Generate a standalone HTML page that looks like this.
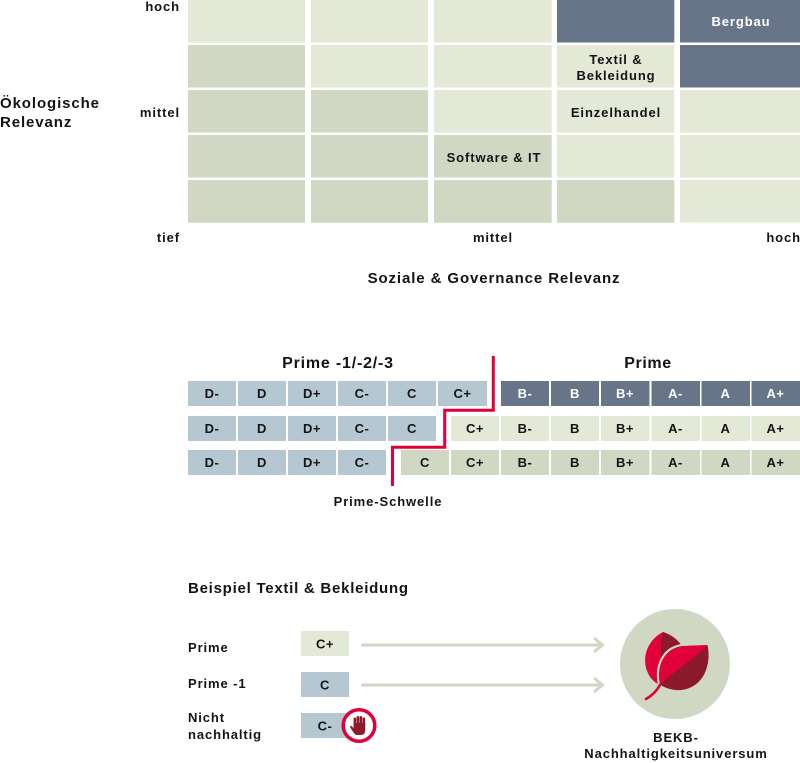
<!DOCTYPE html>
<html><head><meta charset="utf-8"><style>
html,body{margin:0;padding:0;background:#fff;}
svg{display:block;}
text{font-family:"Liberation Sans",Arial,sans-serif;font-weight:bold;fill:#141414;}
.s{font-size:13px;letter-spacing:0.9px;}
.t{font-size:15px;letter-spacing:0.9px;}
.b{font-size:13px;letter-spacing:0.5px;}
.w{fill:#fff;}
</style></head><body>
<svg width="800" height="763" viewBox="0 0 800 763" xmlns="http://www.w3.org/2000/svg">
<!-- Matrix -->
<g>
<rect x="188" y="0" width="117" height="42.5" fill="#e4e8d6"/>
<rect x="311" y="0" width="117" height="42.5" fill="#e4e8d6"/>
<rect x="434" y="0" width="117.7" height="42.5" fill="#e4e8d6"/>
<rect x="557" y="0" width="117.3" height="42.5" fill="#687588"/>
<rect x="680" y="0" width="120" height="42.5" fill="#687588"/>

<rect x="188" y="45" width="117" height="42.5" fill="#d0d7c3"/>
<rect x="311" y="45" width="117" height="42.5" fill="#e4e8d6"/>
<rect x="434" y="45" width="117.7" height="42.5" fill="#e4e8d6"/>
<rect x="557" y="45" width="117.3" height="42.5" fill="#e4e8d6"/>
<rect x="680" y="45" width="120" height="42.5" fill="#687588"/>

<rect x="188" y="90" width="117" height="42.5" fill="#d0d7c3"/>
<rect x="311" y="90" width="117" height="42.5" fill="#d0d7c3"/>
<rect x="434" y="90" width="117.7" height="42.5" fill="#e4e8d6"/>
<rect x="557" y="90" width="117.3" height="42.5" fill="#e4e8d6"/>
<rect x="680" y="90" width="120" height="42.5" fill="#e4e8d6"/>

<rect x="188" y="135" width="117" height="42.5" fill="#d0d7c3"/>
<rect x="311" y="135" width="117" height="42.5" fill="#d0d7c3"/>
<rect x="434" y="135" width="117.7" height="42.5" fill="#d0d7c3"/>
<rect x="557" y="135" width="117.3" height="42.5" fill="#e4e8d6"/>
<rect x="680" y="135" width="120" height="42.5" fill="#e4e8d6"/>

<rect x="188" y="180" width="117" height="42.7" fill="#d0d7c3"/>
<rect x="311" y="180" width="117" height="42.7" fill="#d0d7c3"/>
<rect x="434" y="180" width="117.7" height="42.7" fill="#d0d7c3"/>
<rect x="557" y="180" width="117.3" height="42.7" fill="#d0d7c3"/>
<rect x="680" y="180" width="120" height="42.7" fill="#e4e8d6"/>
</g>
<text class="s w" x="741" y="26" text-anchor="middle">Bergbau</text>
<text class="s" x="616" y="64" text-anchor="middle">Textil &amp;</text>
<text class="s" x="616" y="80" text-anchor="middle">Bekleidung</text>
<text class="s" x="616" y="117" text-anchor="middle">Einzelhandel</text>
<text class="s" x="494" y="162" text-anchor="middle">Software &amp; IT</text>

<text class="s" x="180" y="11" text-anchor="end">hoch</text>
<text class="s" x="180" y="117" text-anchor="end">mittel</text>
<text class="s" x="180" y="242" text-anchor="end">tief</text>
<text class="t" x="0" y="108">Ökologische</text>
<text class="t" x="0" y="127">Relevanz</text>
<text class="s" x="493" y="242" text-anchor="middle">mittel</text>
<text class="s" x="801" y="242" text-anchor="end">hoch</text>
<text class="t" x="494" y="283" text-anchor="middle">Soziale &amp; Governance Relevanz</text>

<!-- Ratings -->
<text x="338" y="368" text-anchor="middle" style="font-size:16px;letter-spacing:0.8px">Prime -1/-2/-3</text>
<text x="648" y="368" text-anchor="middle" style="font-size:16px;letter-spacing:0.6px">Prime</text>

<g>
<rect x="188" y="381" width="48" height="25" fill="#b5c8d2"/>
<rect x="238" y="381" width="48" height="25" fill="#b5c8d2"/>
<rect x="288" y="381" width="48" height="25" fill="#b5c8d2"/>
<rect x="338" y="381" width="48" height="25" fill="#b5c8d2"/>
<rect x="388" y="381" width="48" height="25" fill="#b5c8d2"/>
<rect x="438" y="381" width="49" height="25" fill="#b5c8d2"/>
<rect x="501" y="381" width="48" height="25" fill="#687588"/>
<rect x="551" y="381" width="48" height="25" fill="#687588"/>
<rect x="601" y="381" width="48.5" height="25" fill="#687588"/>
<rect x="651.5" y="381" width="48.5" height="25" fill="#687588"/>
<rect x="701.5" y="381" width="48.5" height="25" fill="#687588"/>
<rect x="751.5" y="381" width="48.5" height="25" fill="#687588"/>

<rect x="188" y="416" width="48" height="25" fill="#b5c8d2"/>
<rect x="238" y="416" width="48" height="25" fill="#b5c8d2"/>
<rect x="288" y="416" width="48" height="25" fill="#b5c8d2"/>
<rect x="338" y="416" width="48" height="25" fill="#b5c8d2"/>
<rect x="388" y="416" width="48" height="25" fill="#b5c8d2"/>
<rect x="451" y="416" width="48" height="25" fill="#e4e8d6"/>
<rect x="501" y="416" width="48" height="25" fill="#e4e8d6"/>
<rect x="551" y="416" width="48" height="25" fill="#e4e8d6"/>
<rect x="601" y="416" width="48.5" height="25" fill="#e4e8d6"/>
<rect x="651.5" y="416" width="48.5" height="25" fill="#e4e8d6"/>
<rect x="701.5" y="416" width="48.5" height="25" fill="#e4e8d6"/>
<rect x="751.5" y="416" width="48.5" height="25" fill="#e4e8d6"/>

<rect x="188" y="450" width="48" height="25" fill="#b5c8d2"/>
<rect x="238" y="450" width="48" height="25" fill="#b5c8d2"/>
<rect x="288" y="450" width="48" height="25" fill="#b5c8d2"/>
<rect x="338" y="450" width="48" height="25" fill="#b5c8d2"/>
<rect x="401" y="450" width="48" height="25" fill="#d0d7c3"/>
<rect x="451" y="450" width="48" height="25" fill="#d0d7c3"/>
<rect x="501" y="450" width="48" height="25" fill="#d0d7c3"/>
<rect x="551" y="450" width="48" height="25" fill="#d0d7c3"/>
<rect x="601" y="450" width="48.5" height="25" fill="#d0d7c3"/>
<rect x="651.5" y="450" width="48.5" height="25" fill="#d0d7c3"/>
<rect x="701.5" y="450" width="48.5" height="25" fill="#d0d7c3"/>
<rect x="751.5" y="450" width="48.5" height="25" fill="#d0d7c3"/>
</g>
<g>
<text class="b" x="212" y="398" text-anchor="middle">D-</text>
<text class="b" x="262" y="398" text-anchor="middle">D</text>
<text class="b" x="312" y="398" text-anchor="middle">D+</text>
<text class="b" x="362" y="398" text-anchor="middle">C-</text>
<text class="b" x="412" y="398" text-anchor="middle">C</text>
<text class="b" x="462.5" y="398" text-anchor="middle">C+</text>
<text class="b w" x="525" y="398" text-anchor="middle">B-</text>
<text class="b w" x="575" y="398" text-anchor="middle">B</text>
<text class="b w" x="625" y="398" text-anchor="middle">B+</text>
<text class="b w" x="675.5" y="398" text-anchor="middle">A-</text>
<text class="b w" x="725.5" y="398" text-anchor="middle">A</text>
<text class="b w" x="775.5" y="398" text-anchor="middle">A+</text>

<text class="b" x="212" y="433" text-anchor="middle">D-</text>
<text class="b" x="262" y="433" text-anchor="middle">D</text>
<text class="b" x="312" y="433" text-anchor="middle">D+</text>
<text class="b" x="362" y="433" text-anchor="middle">C-</text>
<text class="b" x="412" y="433" text-anchor="middle">C</text>
<text class="b" x="475" y="433" text-anchor="middle">C+</text>
<text class="b" x="525" y="433" text-anchor="middle">B-</text>
<text class="b" x="575" y="433" text-anchor="middle">B</text>
<text class="b" x="625" y="433" text-anchor="middle">B+</text>
<text class="b" x="675.5" y="433" text-anchor="middle">A-</text>
<text class="b" x="725.5" y="433" text-anchor="middle">A</text>
<text class="b" x="775.5" y="433" text-anchor="middle">A+</text>

<text class="b" x="212" y="467" text-anchor="middle">D-</text>
<text class="b" x="262" y="467" text-anchor="middle">D</text>
<text class="b" x="312" y="467" text-anchor="middle">D+</text>
<text class="b" x="362" y="467" text-anchor="middle">C-</text>
<text class="b" x="425" y="467" text-anchor="middle">C</text>
<text class="b" x="475" y="467" text-anchor="middle">C+</text>
<text class="b" x="525" y="467" text-anchor="middle">B-</text>
<text class="b" x="575" y="467" text-anchor="middle">B</text>
<text class="b" x="625" y="467" text-anchor="middle">B+</text>
<text class="b" x="675.5" y="467" text-anchor="middle">A-</text>
<text class="b" x="725.5" y="467" text-anchor="middle">A</text>
<text class="b" x="775.5" y="467" text-anchor="middle">A+</text>
</g>

<path d="M493.3,356 V410.3 H444.7 V447.3 H392.5 V486" fill="none" stroke="#e2003a" stroke-width="3"/>
<text class="s" x="388" y="506" text-anchor="middle">Prime-Schwelle</text>

<!-- Example -->
<text class="t" x="188" y="593" style="letter-spacing:0.75px">Beispiel Textil &amp; Bekleidung</text>
<text class="s" x="188" y="652">Prime</text>
<text class="s" x="188" y="688">Prime -1</text>
<text class="s" x="188" y="722">Nicht</text>
<text class="s" x="188" y="739">nachhaltig</text>

<rect x="301" y="631" width="48" height="25" fill="#e4e8d6"/>
<rect x="301" y="672" width="48" height="25" fill="#b5c8d2"/>
<rect x="301" y="713" width="48" height="25" fill="#b5c8d2"/>
<text class="b" x="325" y="648.5" text-anchor="middle">C+</text>
<text class="b" x="325" y="689.5" text-anchor="middle">C</text>
<text class="b" x="325" y="730.5" text-anchor="middle">C-</text>

<!-- stop icon -->
<circle cx="359" cy="725.5" r="15.8" fill="#fff" stroke="#e2003a" stroke-width="3.5"/>
<g fill="#8c1a2b">
<rect x="353.6" y="717.5" width="2.6" height="10" rx="1.3"/>
<rect x="356.6" y="716" width="2.6" height="11" rx="1.3"/>
<rect x="359.6" y="716" width="2.6" height="11" rx="1.3"/>
<rect x="362.6" y="717.5" width="2.6" height="10" rx="1.3"/>
<path d="M353.6,723 H365.2 V730.5 Q365.2,735 360.5,735 H357.5 Q354.8,735 353.5,732.5 L350.3,727.6 Q349.6,726 351.2,725.8 L353.6,728 Z"/>
</g>

<!-- arrows -->
<g stroke="#d0d7c3" stroke-width="3" fill="none">
<line x1="361" y1="645" x2="602" y2="645"/>
<polyline points="594,638 602.5,645 594,652"/>
<line x1="361" y1="685" x2="602" y2="685"/>
<polyline points="594,678 602.5,685 594,692"/>
</g>

<!-- BEKB circle -->
<circle cx="675" cy="664" r="55" fill="#d0d7c3"/>
<path d="M663,632 C648,640 643,655 646,668 C649,678 655,683 660,685 C670,680 682,668 683,655 C684,645 675,636 663,632 Z" fill="#e2003a"/>
<path d="M663,632 C672,635 678,640 682,646 L666,652 L662,662 C660,650 661,640 663,632 Z" fill="#8c1a2b"/>
<path d="M659,685 C655,665 663,648 682,645 L708.5,644 C712,660 708,680 692,688 C680,694 667,691 659,685 Z" fill="#8c1a2b" stroke="#d0d7c3" stroke-width="2.2"/>
<path d="M660,684 C657,665 664,649 682,646 L707.5,645 C694,658 674,672 660,684 Z" fill="#e2003a"/>
<path d="M660,685 Q655,694 646,699" fill="none" stroke="#e2003a" stroke-width="2.6" stroke-linecap="round"/>

<text class="s" x="676" y="742" text-anchor="middle">BEKB-</text>
<text class="s" x="676" y="758" text-anchor="middle">Nachhaltigkeitsuniversum</text>
</svg>
</body></html>
